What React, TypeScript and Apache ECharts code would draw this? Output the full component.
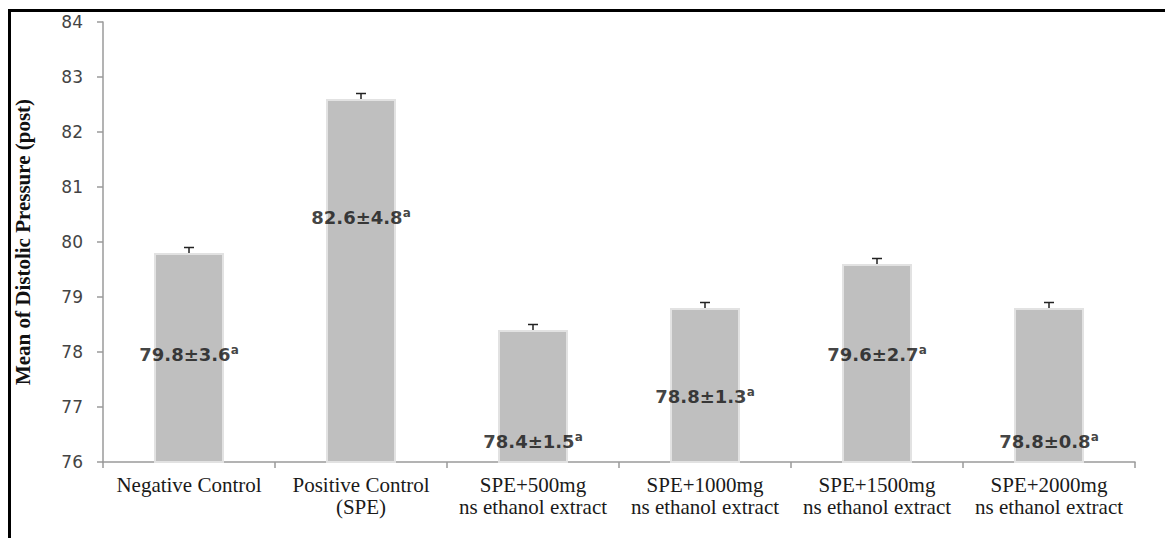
import React, { useEffect, useRef } from "react";
import * as echarts from "echarts";

const categories = [
  "Negative Control",
  "Positive Control\n(SPE)",
  "SPE+500mg\nns ethanol extract",
  "SPE+1000mg\nns ethanol extract",
  "SPE+1500mg\nns ethanol extract",
  "SPE+2000mg\nns ethanol extract",
];
const means = [79.8, 82.6, 78.4, 78.8, 79.6, 78.8];
const sds = [3.6, 4.8, 1.5, 1.3, 2.7, 0.8];
const errorBars = [0.1, 0.1, 0.1, 0.1, 0.1, 0.1];
const labelY = [77.95, 80.45, 76.38, 77.2, 77.96, 76.38];
const superscripts = ["a", "a", "a", "a", "a", "a"];
const yMin = 76;
const yMax = 84;
const yInterval = 1;

export default function App() {
  const ref = useRef<HTMLDivElement>(null);
  useEffect(() => {
    if (!ref.current) return;
    const chart = echarts.init(ref.current, null, { renderer: "svg" });
    chart.setOption({
      animation: false,
      backgroundColor: "#ffffff",
      grid: { left: 103, right: 30, top: 22, bottom: 76 },
      graphic: [
        { type: "rect", shape: { x: 8, y: 9, width: 1157, height: 3 }, style: { fill: "#000" } },
        { type: "rect", shape: { x: 8, y: 9, width: 3, height: 529 }, style: { fill: "#000" } },
      ],
      xAxis: {
        type: "category",
        data: categories,
        axisLine: { lineStyle: { color: "#9a9a9a", width: 1.5 } },
        axisTick: { show: true, length: 6, lineStyle: { color: "#9a9a9a", width: 1.5 } },
        axisLabel: {
          color: "#1a1a1a",
          fontFamily: "Liberation Serif",
          fontSize: 21,
          lineHeight: 22,
          margin: 12,
          interval: 0,
        },
      },
      yAxis: {
        type: "value",
        min: yMin,
        max: yMax,
        interval: yInterval,
        name: "Mean of Distolic Pressure (post)",
        nameLocation: "middle",
        nameGap: 70,
        nameTextStyle: {
          fontFamily: "Liberation Serif",
          fontWeight: "bold",
          fontSize: 21,
          color: "#111",
        },
        axisLine: { show: true, lineStyle: { color: "#9a9a9a", width: 1.5 } },
        axisTick: { show: true, length: 6, lineStyle: { color: "#9a9a9a", width: 1.5 } },
        splitLine: { show: false },
        axisLabel: {
          color: "#444",
          fontFamily: "DejaVu Sans",
          fontSize: 17,
          margin: 20,
        },
      },
      series: [
        {
          type: "bar",
          data: means,
          barWidth: 70,
          itemStyle: {
            color: "#bfbfbf",
            borderColor: "#e2e2e2",
            borderWidth: 2,
          },
          z: 2,
        },
        {
          type: "custom",
          data: means.map((m, i) => [i, m, m + errorBars[i]]),
          renderItem: (params: any, api: any) => {
            const x = api.coord([api.value(0), api.value(1)])[0];
            const y0 = api.coord([api.value(0), api.value(1)])[1];
            const y1 = api.coord([api.value(0), api.value(2)])[1];
            const stroke = { stroke: "#222", lineWidth: 1.5 };
            return {
              type: "group",
              children: [
                { type: "line", shape: { x1: x, y1: y0, x2: x, y2: y1 }, style: stroke },
                { type: "line", shape: { x1: x - 5, y1: y1, x2: x + 5, y2: y1 }, style: stroke },
              ],
            };
          },
          z: 3,
        },
        {
          type: "scatter",
          symbolSize: 0,
          data: labelY.map((y, i) => [i, y]),
          label: {
            show: true,
            position: "inside",
            formatter: (p: any) =>
              `{v|${means[p.dataIndex].toFixed(1)}±${sds[p.dataIndex].toFixed(1)}}{s|${superscripts[p.dataIndex]}}`,
            rich: {
              v: {
                fontFamily: "DejaVu Sans",
                fontWeight: "bold",
                fontSize: 18,
                color: "#111",
              },
              s: {
                fontFamily: "DejaVu Sans",
                fontWeight: "bold",
                fontSize: 12,
                color: "#111",
                padding: [0, 0, 9, 0],
              },
            },
          },
          z: 4,
        },
      ],
    });
    return () => chart.dispose();
  }, []);
  return (
    <div
      ref={ref}
      style={{ position: "fixed", left: 0, top: 0, width: 1165, height: 538 }}
    />
  );
}
